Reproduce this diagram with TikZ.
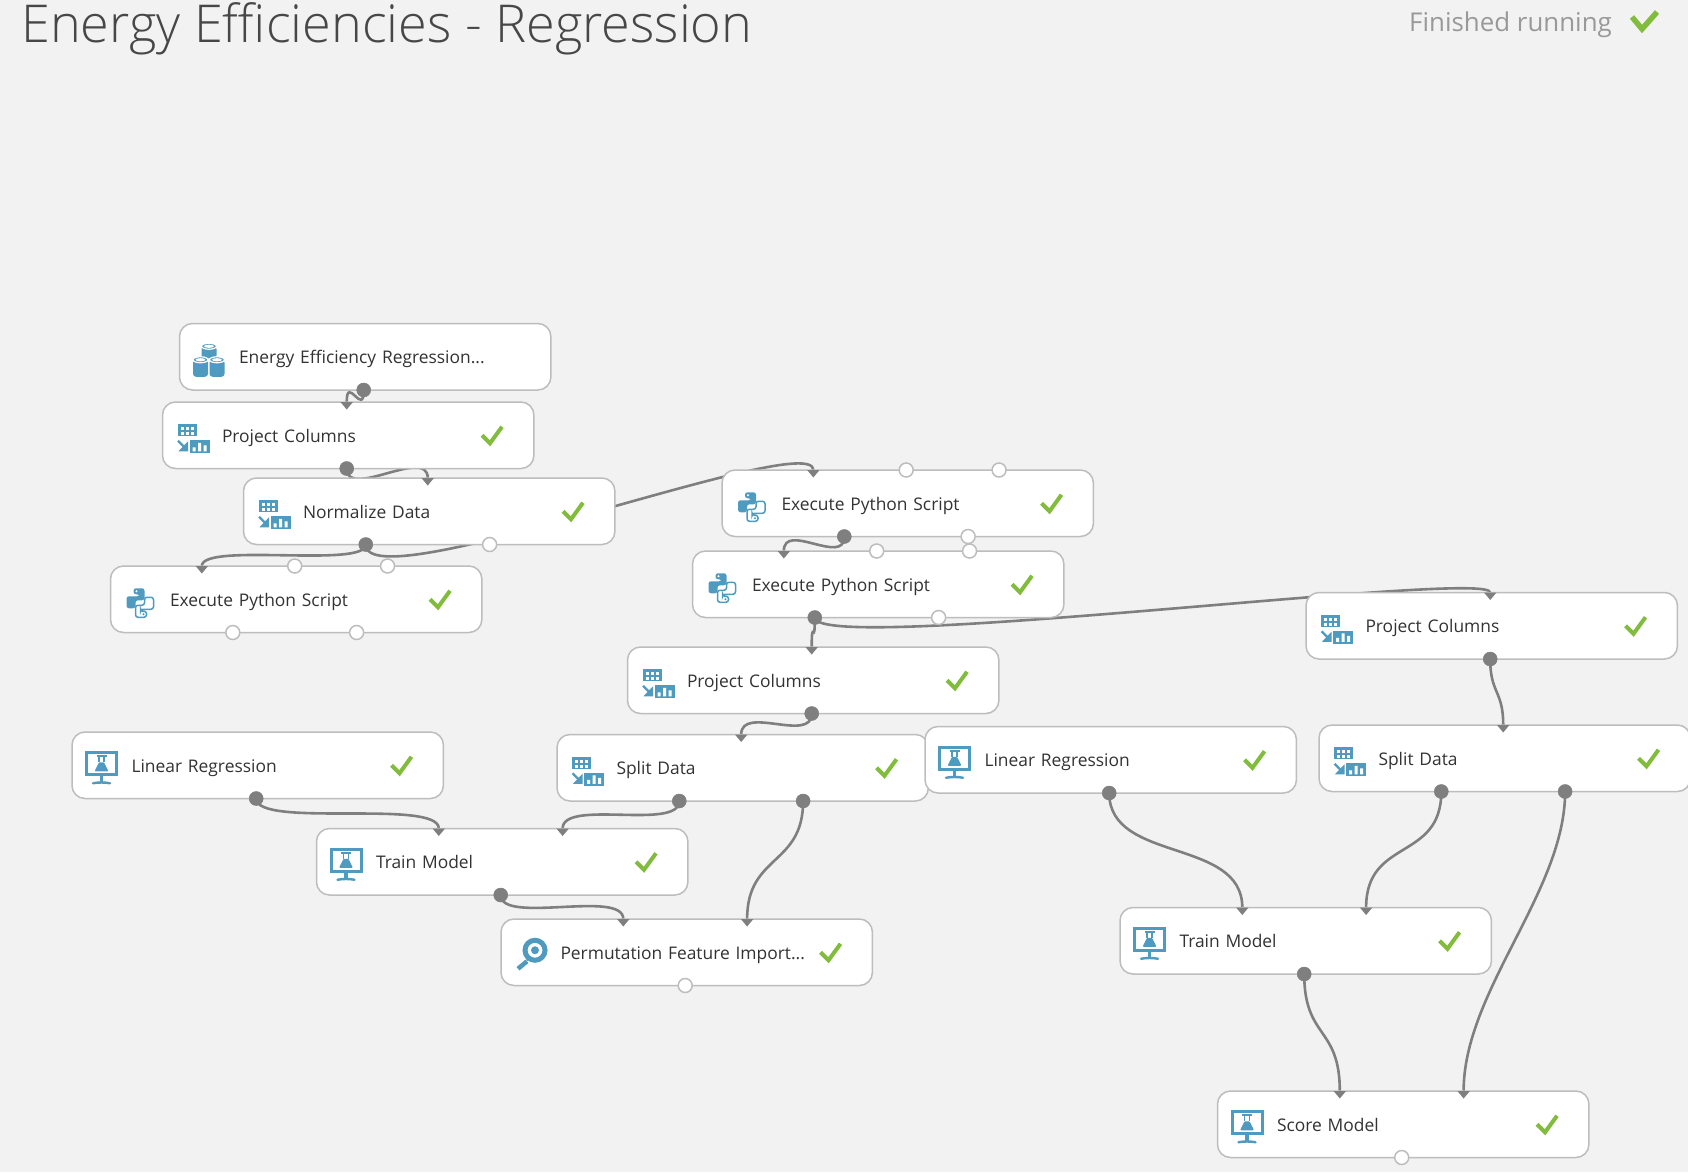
\documentclass[tikz,border=0pt]{standalone}
\usepackage{fontspec}
\setmainfont{Open Sans}
\newfontfamily\titlefont{Open Sans}[UprightFont=* Light]
\usetikzlibrary{calc,shapes.geometric}
\definecolor{pagebg}{HTML}{F2F2F2}
\definecolor{edgegray}{HTML}{BDBDBD}
\definecolor{wiregray}{HTML}{7F7F7F}
\definecolor{iconblue}{HTML}{4F9BC0}
\definecolor{okgreen}{HTML}{82BC3C}
\definecolor{inkgray}{HTML}{333333}
\pgfdeclarelayer{pagelayer}
\pgfdeclarelayer{wirelayer}
\pgfsetlayers{pagelayer,wirelayer,main}
\tikzset{
  x=1pt,y=-1pt,
  module/.style={draw=edgegray,line width=1.5pt,fill=white,rounded corners=13pt,outer sep=0pt,
    anchor=north west,minimum height=66.5pt,text width=252.4pt,inner xsep=59.5pt,inner ysep=0pt,
    text height=16pt,text depth=2pt,
    align=left,font=\fontsize{17.4}{20}\selectfont,text=inkgray},
  outfull/.style={circle,fill=wiregray,draw=wiregray,line width=.5pt,minimum size=14pt,inner sep=0pt,outer sep=0pt,xshift=-1.5pt},
  outopen/.style={circle,fill=white,draw=edgegray,line width=1.5pt,minimum size=14pt,inner sep=0pt,outer sep=0pt,xshift=-1.5pt},
  inarrow/.style={isosceles triangle,isosceles triangle stretches,shape border rotate=-90,fill=wiregray,
    minimum width=12.5pt,minimum height=7.5pt,inner sep=0pt,outer sep=0pt,anchor=lower side,xshift=-1.5pt},
  wire/.style={draw=wiregray,line width=2.6pt},
  okstroke/.style={draw=okgreen,line width=4pt},
  okmark/.pic={\draw[okstroke] (-10,0) -- (-2,8) -- (10,-8.5);},
  tablearrow/.pic={
    \fill[iconblue] (15,-11) rectangle (34,1);
    \foreach \a in {18,23,28}{\foreach \b in {-8,-3}{\fill[white] (\a,\b) rectangle ++(3,3);}}
    \fill[iconblue] (27,5) rectangle (47,18);
    \fill[white] (30,12) rectangle (33,16) (35.5,7.5) rectangle (38.5,16) (41,10) rectangle (44,16);
    \draw[iconblue,line width=2.2pt] (15.5,5.5) -- (24,14);
    \fill[iconblue] (25.5,6) -- (25.5,16) -- (16,16) -- cycle;},
  stackicon/.pic={
    \foreach \cx/\cy in {29.5/-13.5,21/0,37.5/0}{
      \fill[iconblue,rounded corners=3pt] (\cx-7.5,\cy+3) rectangle (\cx+7.5,\cy+\ifdim\cy pt<-1pt 15\else 20\fi);
      \draw[white,fill=iconblue,line width=1.2pt] (\cx,\cy+3) ellipse [x radius=7.5,y radius=3];
      \fill[white] (\cx,\cy+3) ellipse [x radius=5,y radius=1.6];}},
  snakeicon/.pic={
    \fill[iconblue,rounded corners=2.5pt] (23,-11) -- (34,-11) -- (34,1) -- (25,1) -- (25,9) -- (16,9) -- (16,-3) -- (29,-3) -- (29,-5) -- (23,-5) -- cycle;
    \fill[white] (26,-8) circle (1.2);
    \draw[iconblue,line width=1.5pt,fill=white,rounded corners=2.5pt] (36,18) -- (25,18) -- (25,6) -- (34,6) -- (34,-2) -- (43,-2) -- (43,10) -- (30,10) -- (30,12) -- (36,12) -- cycle;
    \fill[iconblue] (33,15) circle (1.2);},
  labicon/.pic={
    \draw[iconblue,line width=3pt] (14.5,-12.5) rectangle (44.5,9.5);
    \fill[iconblue] (27.5,10) rectangle (31,17);
    \draw[iconblue,line width=2.4pt,line cap=round] (21,18) .. controls (26,17) and (33,17) .. (38,18);
    \draw[iconblue,line width=2pt] (24.5,-9) -- (34.5,-9);
    \draw[iconblue,line width=1.5pt] (27,-9) -- (27,-3) (32,-9) -- (32,-3);
    \fill[iconblue,rounded corners=1pt] (27,-3) -- (32,-3) -- (36.5,6) -- (22.5,6) -- cycle;},
  lensicon/.pic={
    \draw[iconblue,line width=5pt] (34,-2) circle (10);
    \fill[iconblue] (34,-2) circle (4);
    \draw[iconblue,line width=2pt] (28,6) -- (26,8);
    \draw[iconblue,line width=4.5pt] (26,9) -- (17,16.5);},
}
\newcommand{\modbox}[5]{% name, x, y, text, icon
  \node[module] (#1) at (#2,#3) {#4};
  \path (#1.west) pic {#5};}
\newcommand{\okat}[1]{\path (#1.west) ++(329.5,0) pic {okmark};}
\newcommand{\inport}[3]{\node[inarrow] (#1) at ($(#2.north west)!#3!(#2.north east)$) {};}
\newcommand{\inopen}[3]{\node[outopen] (#1) at ($(#2.north west)!#3!(#2.north east)$) {};}
\newcommand{\outport}[4][outfull]{\node[#1] (#2) at ($(#3.south west)!#4!(#3.south east)$) {};}
\begin{document}
\begin{tikzpicture}
\useasboundingbox (0,0) rectangle (1688,1172);
\begin{pgfonlayer}{pagelayer}
\fill[pagebg] (0,0) rectangle (1688,1172);
\end{pgfonlayer}
\clip (0,0) rectangle (1688,1172);
\node[anchor=base west,inner sep=0pt,text=inkgray!90,font=\titlefont\fontsize{52.2}{60}\selectfont] (title) at (21,43) {Energy Efficiencies - Regression};
\node[anchor=base west,inner sep=0pt,text=black!40,font=\fontsize{25.9}{28}\selectfont] (status) at (1409,32) {Finished running};
\draw[okgreen,line width=5.5pt] (1632,17) -- (1642,29) -- (1657,12);

\modbox{energy}{179.5}{323.5}{Energy Efficiency Regression...}{stackicon}
\modbox{pcA}{162.5}{402}{Project Columns}{tablearrow}
\modbox{norm}{243.5}{478}{Normalize Data}{tablearrow}
\modbox{pyA}{110.5}{566}{Execute Python Script}{snakeicon}
\modbox{pyB}{722}{470}{Execute Python Script}{snakeicon}
\modbox{pyC}{692.5}{551}{Execute Python Script}{snakeicon}
\modbox{pcB}{627.5}{647}{Project Columns}{tablearrow}
\modbox{pcC}{1306}{592.5}{Project Columns}{tablearrow}
\modbox{splitA}{557}{734.5}{Split Data}{tablearrow}
\modbox{splitB}{1319}{725}{Split Data}{tablearrow}
\modbox{linA}{72}{732}{Linear Regression}{labicon}
\modbox{linB}{925}{726.5}{Linear Regression}{labicon}
\modbox{trainA}{316.5}{828.5}{Train Model}{labicon}
\modbox{trainB}{1120}{907.5}{Train Model}{labicon}
\modbox{perm}{501}{919}{Permutation Feature Import...}{lensicon}
\modbox{score}{1217.5}{1091}{Score Model}{labicon}

\okat{pcA}\okat{norm}\okat{pyA}\okat{pyB}\okat{pyC}\okat{pcB}\okat{pcC}\okat{splitA}\okat{splitB}
\okat{linA}\okat{linB}\okat{trainA}\okat{trainB}\okat{perm}\okat{score}

% input ports
\inport{pcAi}{pcA}{.5}
\inport{normi}{norm}{.5}
\inport{pyAi}{pyA}{.25}\inopen{pyAj}{pyA}{.5}\inopen{pyAk}{pyA}{.75}
\inport{pyBi}{pyB}{.25}\inopen{pyBj}{pyB}{.5}\inopen{pyBk}{pyB}{.75}
\inport{pyCi}{pyC}{.25}\inopen{pyCj}{pyC}{.5}\inopen{pyCk}{pyC}{.75}
\inport{pcBi}{pcB}{.5}
\inport{pcCi}{pcC}{.5}
\inport{splitAi}{splitA}{.5}
\inport{splitBi}{splitB}{.5}
\inport{trainAi}{trainA}{.3333}\inport{trainAj}{trainA}{.6667}
\inport{trainBi}{trainB}{.3333}\inport{trainBj}{trainB}{.6667}
\inport{permi}{perm}{.3333}\inport{permj}{perm}{.6667}
\inport{scorei}{score}{.3333}\inport{scorej}{score}{.6667}
% output ports
\outport{energyo}{energy}{.5}
\outport{pcAo}{pcA}{.5}
\outport{normo}{norm}{.3333}\outport[outopen]{normp}{norm}{.6667}
\outport[outopen]{pyAo}{pyA}{.3333}\outport[outopen]{pyAp}{pyA}{.6667}
\outport{pyBo}{pyB}{.3333}\outport[outopen]{pyBp}{pyB}{.6667}
\outport{pyCo}{pyC}{.3333}\outport[outopen]{pyCp}{pyC}{.6667}
\outport{pcBo}{pcB}{.5}
\outport{pcCo}{pcC}{.5}
\outport{splitAo}{splitA}{.3333}\outport{splitAp}{splitA}{.6667}
\outport{splitBo}{splitB}{.3333}\outport{splitBp}{splitB}{.6667}
\outport{linAo}{linA}{.5}
\outport{linBo}{linB}{.5}
\outport{trainAo}{trainA}{.5}
\outport{trainBo}{trainB}{.5}
\outport[outopen]{permo}{perm}{.5}
\outport[outopen]{scoreo}{score}{.5}

\begin{pgfonlayer}{wirelayer}
\draw[wire] (energyo.center) .. controls +(0,28) and +(0,-28) .. (pcAi.lower side);
\draw[wire] (pcAo.center) .. controls +(0,32) and +(0,-32) .. (normi.lower side);
\draw[wire] (normo.center) .. controls +(0,24) and +(0,-24) .. (pyAi.lower side);
\draw[wire] (normo.center) .. controls +(0,58) and +(0,-42) .. (pyBi.lower side);
\draw[wire] (pyBo.center) .. controls +(0,30) and +(0,-30) .. (pyCi.lower side);
\draw[wire] (pyCo.center) .. controls +(0,32) and +(0,-32) .. (pcBi.lower side);
\draw[wire] (pyCo.center) .. controls +(0,38) and +(0,-24) .. (pcCi.lower side);
\draw[wire] (pcBo.center) .. controls +(0,30) and +(0,-30) .. (splitAi.lower side);
\draw[wire] (splitAo.center) .. controls +(0,30) and +(0,-30) .. (trainAj.lower side);
\draw[wire] (linAo.center) .. controls +(0,30) and +(0,-30) .. (trainAi.lower side);
\draw[wire] (splitAp.center) .. controls +(0,65) and +(0,-65) .. (permj.lower side);
\draw[wire] (trainAo.center) .. controls +(0,30) and +(0,-30) .. (permi.lower side);
\draw[wire] (pcCo.center) .. controls +(0,35) and +(0,-35) .. (splitBi.lower side);
\draw[wire] (linBo.center) .. controls +(0,70) and +(0,-70) .. (trainBi.lower side);
\draw[wire] (splitBo.center) .. controls +(0,70) and +(0,-70) .. (trainBj.lower side);
\draw[wire] (splitBp.center) .. controls +(0,100) and +(0,-100) .. (scorej.lower side);
\draw[wire] (trainBo.center) .. controls +(0,65) and +(0,-65) .. (scorei.lower side);
\end{pgfonlayer}
\end{tikzpicture}
\end{document}
